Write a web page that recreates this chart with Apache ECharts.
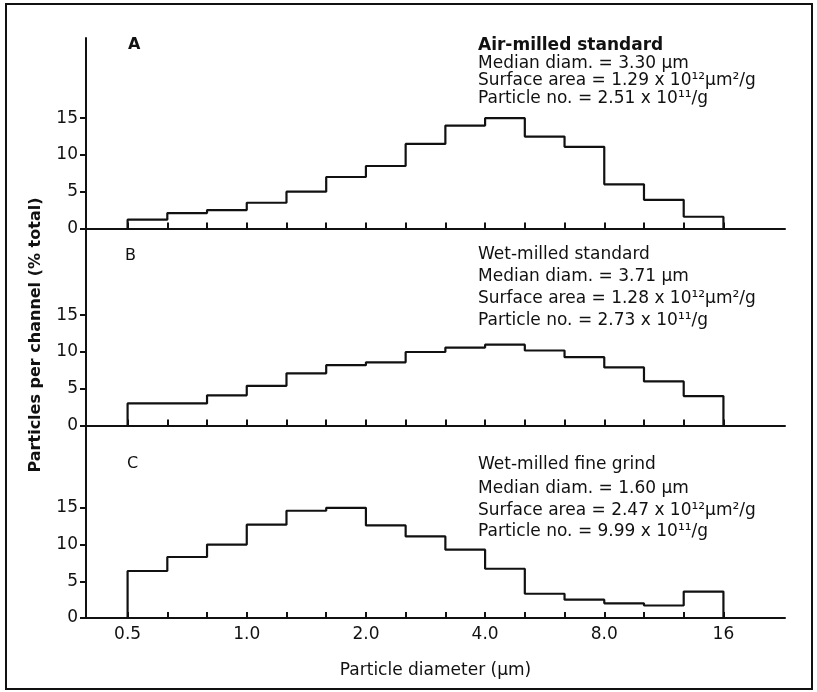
<!DOCTYPE html>
<html>
<head>
<meta charset="utf-8">
<title>Particle size distributions</title>
<script src="https://cdn.jsdelivr.net/npm/echarts@6/dist/echarts.min.js"></script>
<style>
  html, body { margin: 0; padding: 0; background: #fff; }
  #chart { width: 817px; height: 692px; }
</style>
</head>
<body>
<div id="chart"></div>
<script type="text/javascript">
// channel index: 0 = 0.5 um, each step = 1/3 of a doubling
var tickPos = [0, 3, 6, 9, 12, 15];
var tickLabels = ['0.5', '1.0', '2.0', '4.0', '8.0', '16'];
var yTicks = [0, 5, 10, 15];

// particles per channel (% total), one value per channel starting at 0.5 um
var airMilled = [1.2, 2.1, 2.5, 3.5, 5.0, 7.0, 8.5, 11.5, 14.0, 15.0, 12.5, 11.1, 6.0, 3.9, 1.6];
var wetStandard = [3.0, 3.0, 4.1, 5.4, 7.1, 8.2, 8.6, 10.0, 10.6, 11.0, 10.2, 9.3, 7.9, 6.0, 4.0];
var wetFine = [6.4, 8.3, 10.0, 12.7, 14.6, 15.0, 12.6, 11.1, 9.3, 6.7, 3.3, 2.5, 2.0, 1.7, 3.6];

var panelNames = ['A', 'B', 'C'];
var panelText = [
	['Air-milled standard', 'Median diam. = 3.30 µm', 'Surface area = 1.29 x 10¹²µm²/g', 'Particle no. = 2.51 x 10¹¹/g'],
	['Wet-milled standard', 'Median diam. = 3.71 µm', 'Surface area = 1.28 x 10¹²µm²/g', 'Particle no. = 2.73 x 10¹¹/g'],
	['Wet-milled fine grind', 'Median diam. = 1.60 µm', 'Surface area = 2.47 x 10¹²µm²/g', 'Particle no. = 9.99 x 10¹¹/g']
];

var FONT = '"DejaVu Sans", sans-serif';
var INK = '#111';

// outline of a histogram: up at first edge, flat tops, down at last edge
function outline(vals) {
	var pts = [[0, 0]];
	for (var i = 0; i < vals.length; i++) {
		pts.push([i, vals[i]]);
		pts.push([i + 1, vals[i]]);
	}
	pts.push([vals.length, 0]);
	return pts;
}

var grids = [
	{left: 86, right: 32, top: 38, height: 190.5, ymax: 25.9},
	{left: 86, right: 32, top: 228.5, height: 197, ymax: 26.8},
	{left: 86, right: 32, top: 425.5, height: 192.5, ymax: 26.2}
];
var allData = [airMilled, wetStandard, wetFine];

var xAxes = [], yAxes = [], series = [];
grids.forEach(function (g, i) {
	var last = i === 2;
	xAxes.push({
		type: 'value', gridIndex: i, min: -1.047, max: 16.55,
		axisLine: {show: true, onZero: false, lineStyle: {color: INK, width: 2}},
		axisTick: {show: true, inside: true, length: 6, lineStyle: {color: INK, width: 2},
			customValues: [0, 1, 2, 3, 4, 5, 6, 7, 8, 9, 10, 11, 12, 13, 14, 15]},
		axisLabel: {show: last, customValues: tickPos, margin: 8, color: INK, fontSize: 17, fontFamily: FONT,
			formatter: function (v) {
				var k = tickPos.indexOf(Math.round(v));
				return k < 0 ? '' : tickLabels[k];
			}},
		splitLine: {show: false},
		name: last ? 'Particle diameter (µm)' : '',
		nameLocation: 'middle', nameGap: 44,
		nameTextStyle: {color: INK, fontSize: 17, fontFamily: FONT}
	});
	yAxes.push({
		type: 'value', gridIndex: i, min: 0, max: g.ymax,
		axisLine: {show: true, onZero: false, lineStyle: {color: INK, width: 2}},
		axisTick: {show: true, length: 6, lineStyle: {color: INK, width: 2}, customValues: yTicks},
		axisLabel: {customValues: yTicks, margin: 8, color: INK, fontSize: 17, fontFamily: FONT},
		splitLine: {show: false}
	});
	series.push({
		type: 'line', xAxisIndex: i, yAxisIndex: i,
		data: outline(allData[i]),
		showSymbol: false, silent: true, animation: false,
		lineStyle: {color: INK, width: 2.2}
	});
});

var graphics = [
	{type: 'rect', shape: {x: 6, y: 4, width: 806, height: 685}, style: {fill: 'none', stroke: INK, lineWidth: 2}, silent: true},
	{type: 'text', x: 36, y: 335, rotation: Math.PI / 2,
		style: {text: 'Particles per channel (% total)', font: 'bold 16px ' + FONT, fill: INK, align: 'center', verticalAlign: 'middle'}}
];
var labelPos = [[128, 45, 'bold'], [125, 256, 'normal'], [127, 464, 'normal']];
var textTop = [[46, 63.5, 81, 98.5], [255, 277, 299, 321], [465, 489, 511, 532]];
panelNames.forEach(function (n, i) {
	graphics.push({type: 'text', x: labelPos[i][0], y: labelPos[i][1],
		style: {text: n, font: labelPos[i][2] + ' 16px ' + FONT, fill: INK, verticalAlign: 'middle'}});
	panelText[i].forEach(function (t, j) {
		graphics.push({type: 'text', x: 478, y: textTop[i][j],
			style: {text: t, font: (j === 0 && i === 0 ? 'bold ' : '') + '17px ' + FONT, fill: INK, verticalAlign: 'middle'}});
	});
});

var myChart = echarts.init(document.getElementById('chart'));
myChart.setOption({
	backgroundColor: '#fff',
	animation: false,
	grid: grids.map(function (g) { return {left: g.left, right: g.right, top: g.top, height: g.height}; }),
	xAxis: xAxes,
	yAxis: yAxes,
	series: series,
	graphic: graphics
});
</script>
</body>
</html>
